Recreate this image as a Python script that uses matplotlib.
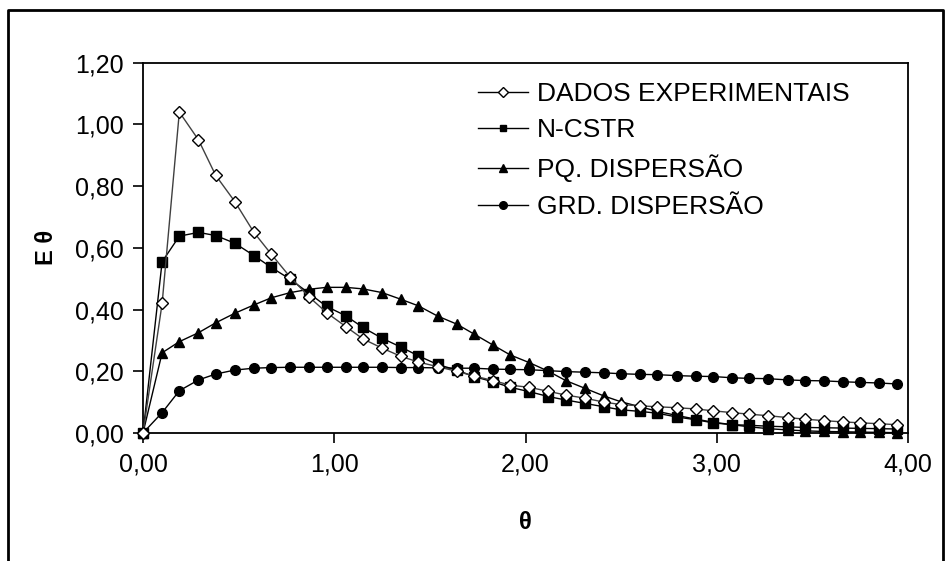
import matplotlib
matplotlib.use('Agg')
import matplotlib.pyplot as plt
from matplotlib.lines import Line2D
from matplotlib.ticker import FuncFormatter

plt.rcParams['font.family'] = ['Liberation Sans', 'DejaVu Sans']

# theta values (adimensional time)
theta = [0.00, 0.10, 0.19, 0.29, 0.38, 0.48, 0.58, 0.67, 0.77, 0.87,
         0.96, 1.06, 1.15, 1.25, 1.35, 1.44, 1.54, 1.64, 1.73, 1.83,
         1.92, 2.02, 2.12, 2.21, 2.31, 2.41, 2.50, 2.60, 2.69, 2.79,
         2.89, 2.98, 3.08, 3.17, 3.27, 3.37, 3.46, 3.56, 3.66, 3.75,
         3.85, 3.94]

# experimental E(theta)
e_exp = [0.00, 0.42, 1.04, 0.95, 0.835, 0.75, 0.65, 0.58, 0.505, 0.44,
         0.39, 0.345, 0.305, 0.275, 0.248, 0.23, 0.215, 0.20, 0.185, 0.17,
         0.155, 0.148, 0.135, 0.123, 0.113, 0.10, 0.092, 0.088, 0.085, 0.082,
         0.078, 0.072, 0.066, 0.061, 0.056, 0.05, 0.045, 0.04, 0.036, 0.033,
         0.03, 0.027]

# N-CSTR model
e_ncstr = [0.00, 0.555, 0.638, 0.65, 0.64, 0.615, 0.575, 0.537, 0.498, 0.452,
           0.41, 0.38, 0.342, 0.307, 0.278, 0.25, 0.222, 0.204, 0.183, 0.166,
           0.148, 0.134, 0.118, 0.107, 0.096, 0.085, 0.075, 0.07, 0.064, 0.052,
           0.043, 0.033, 0.027, 0.025, 0.022, 0.02, 0.018, 0.017, 0.016, 0.015,
           0.014, 0.013]

# small dispersion model
e_pq = [0.00, 0.26, 0.296, 0.325, 0.357, 0.388, 0.415, 0.438, 0.455, 0.466,
        0.472, 0.472, 0.467, 0.455, 0.433, 0.412, 0.379, 0.353, 0.321, 0.285,
        0.253, 0.228, 0.20, 0.17, 0.145, 0.12, 0.101, 0.085, 0.07, 0.057,
        0.045, 0.035, 0.027, 0.02, 0.014, 0.01, 0.007, 0.005, 0.004, 0.003,
        0.002, 0.001]

# large dispersion model
e_grd = [0.00, 0.066, 0.137, 0.172, 0.191, 0.204, 0.21, 0.212, 0.213, 0.213,
         0.213, 0.213, 0.213, 0.213, 0.212, 0.212, 0.211, 0.21, 0.21, 0.207,
         0.206, 0.205, 0.202, 0.199, 0.197, 0.195, 0.192, 0.19, 0.189, 0.186,
         0.184, 0.183, 0.179, 0.177, 0.176, 0.172, 0.17, 0.169, 0.166, 0.164,
         0.162, 0.159]

labels = ['DADOS EXPERIMENTAIS', 'N-CSTR', 'PQ. DISPERSÃO', 'GRD. DISPERSÃO']

fig = plt.figure(figsize=(9.5, 5.61), dpi=100)
ax = fig.add_axes([143/950, 1 - 433/561, (908 - 143)/950, (433 - 62.7)/561])

ax.plot(theta, e_exp, color='#404040', lw=1, marker='D', ms=6.5,
        mfc='white', mec='black', mew=1, clip_on=False, zorder=5)
ax.plot(theta, e_ncstr, color='black', lw=1, marker='s', ms=6.5,
        mfc='black', mec='black', clip_on=False, zorder=4)
ax.plot(theta, e_pq, color='black', lw=1, marker='^', ms=7.5,
        mfc='black', mec='black', clip_on=False, zorder=3)
ax.plot(theta, e_grd, color='black', lw=1, marker='o', ms=7,
        mfc='black', mec='black', clip_on=False, zorder=2)

ax.set_xlim(0, 4)
ax.set_ylim(0, 1.2)
ax.set_xticks([0, 1, 2, 3, 4])
ax.set_yticks([0, 0.2, 0.4, 0.6, 0.8, 1.0, 1.2])
fmt = FuncFormatter(lambda v, p: f'{v:.2f}'.replace('.', ','))
ax.xaxis.set_major_formatter(fmt)
ax.yaxis.set_major_formatter(fmt)
ax.tick_params(direction='out', length=7, width=1.2, labelsize=18, pad=7)
for s in ax.spines.values():
    s.set_linewidth(1.3)

ax.set_xlabel('θ', fontsize=17, fontweight='bold', labelpad=25)
ax.set_ylabel('E θ', fontsize=17, fontweight='bold', labelpad=12)

# legend with smaller markers like the original
handles = [
    Line2D([], [], color='black', lw=1, marker='D', ms=5, mfc='white', mec='black'),
    Line2D([], [], color='black', lw=1, marker='s', ms=5, mfc='black'),
    Line2D([], [], color='black', lw=1, marker='^', ms=5.5, mfc='black'),
    Line2D([], [], color='black', lw=1, marker='o', ms=5.5, mfc='black'),
]
ax.legend(handles, labels, loc='upper left', frameon=False, fontsize=19,
          bbox_to_anchor=(478/950, 1 - 82/561), bbox_transform=fig.transFigure,
          borderaxespad=0, borderpad=0, handlelength=1.9, handletextpad=0.34,
          labelspacing=0.47)

# outer border of the picture
fx = [8/950, 8/950, 943/950, 943/950]
fy = [-0.01, 1 - 10/561, 1 - 10/561, -0.01]
fig.add_artist(Line2D(fx, fy, color='black', lw=2, transform=fig.transFigure))

fig.savefig('out.png', dpi=100)
